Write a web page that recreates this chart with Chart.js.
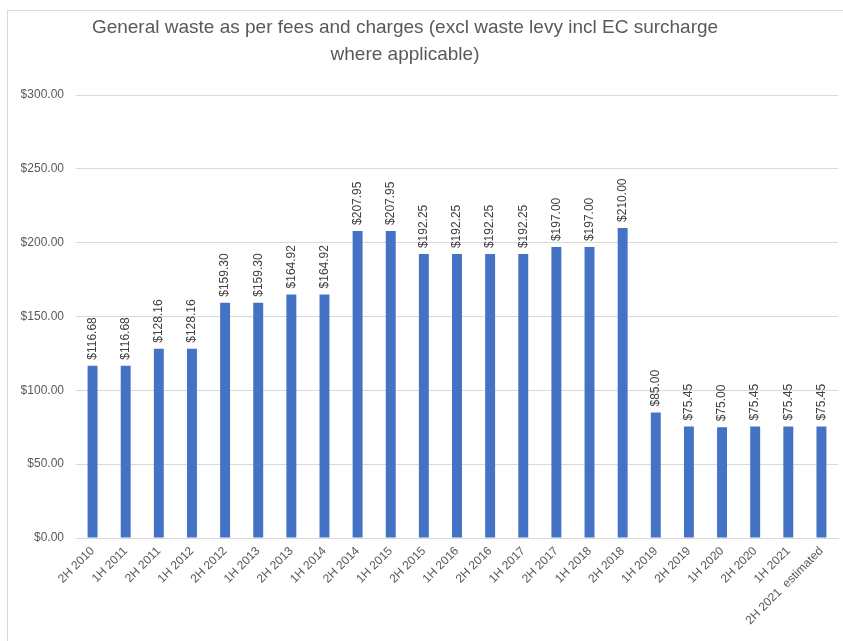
<!DOCTYPE html>
<html>
<head>
<meta charset="utf-8">
<script src="https://cdn.jsdelivr.net/npm/chart.js@4/dist/chart.umd.min.js"></script>
<style>
  body { margin: 0; background: #fff; overflow: hidden; }
  #frame { position: absolute; left: 7px; top: 10px; width: 1000px; height: 800px; border: 1px solid #d9d9d9; }
  #wrap { position: absolute; left: 0; top: 0; width: 843px; height: 641px; }
</style>
</head>
<body>
<div id="frame"></div>
<div id="wrap"><canvas id="mycanvas" width="843" height="641"></canvas></div>
<script>
var periods = ["2H 2010", "1H 2011", "2H 2011", "1H 2012", "2H 2012", "1H 2013", "2H 2013", "1H 2014",
  "2H 2014", "1H 2015", "2H 2015", "1H 2016", "2H 2016", "1H 2017", "2H 2017", "1H 2018", "2H 2018",
  "1H 2019", "2H 2019", "1H 2020", "2H 2020", "1H 2021", "2H 2021  estimated"];
var fees = [116.68, 116.68, 128.16, 128.16, 159.30, 159.30, 164.92, 164.92, 207.95, 207.95, 192.25,
  192.25, 192.25, 192.25, 197.00, 197.00, 210.00, 85.00, 75.45, 75.00, 75.45, 75.45, 75.45];
var titleLines = ["General waste as per fees and charges (excl waste levy incl EC surcharge",
  "where applicable)"];

var font = "'Liberation Sans', Arial, sans-serif";

function money(v) {
  return "$" + Number(v).toFixed(2);
}

// title drawn by hand so it sits where the old chart had it
var titlePlugin = {
  id: "titleText",
  afterDraw: function(chart) {
    var ctx = chart.ctx;
    ctx.save();
    ctx.fillStyle = "#595959";
    ctx.font = "19px " + font;
    ctx.textAlign = "center";
    ctx.textBaseline = "middle";
    ctx.fillText(titleLines[0], 405, 28);
    ctx.fillText(titleLines[1], 405, 55);
    ctx.restore();
  }
};

// value labels, rotated, just above each bar
var valuePlugin = {
  id: "valueLabels",
  afterDatasetsDraw: function(chart) {
    var ctx = chart.ctx;
    var meta = chart.getDatasetMeta(0);
    ctx.save();
    ctx.fillStyle = "#404040";
    ctx.font = "12px " + font;
    ctx.textAlign = "left";
    ctx.textBaseline = "middle";
    meta.data.forEach(function(bar, i) {
      ctx.save();
      ctx.translate(bar.x, bar.y - 6);
      ctx.rotate(-Math.PI / 2);
      ctx.fillText(money(fees[i]), 0, 0);
      ctx.restore();
    });
    ctx.restore();
  }
};

var ctx = document.getElementById("mycanvas");
var barGraph = new Chart(ctx, {
  type: "bar",
  data: {
    labels: periods,
    datasets: [{
      label: "General waste",
      data: fees,
      backgroundColor: "#4472C4",
      borderWidth: 0,
      barPercentage: 0.3,
      categoryPercentage: 1.0
    }]
  },
  options: {
    responsive: false,
    animation: false,
    layout: { padding: { left: 0, right: 5, top: 95, bottom: 0 } },
    plugins: {
      legend: { display: false },
      title: { display: false },
      tooltip: { enabled: false }
    },
    scales: {
      x: {
        grid: { display: false, drawTicks: false },
        border: { color: "#d9d9d9", width: 1 },
        ticks: {
          color: "#595959",
          font: { family: font, size: 12 },
          maxRotation: 45,
          minRotation: 45,
          autoSkip: false,
          padding: 6
        },
        afterFit: function(scale) { scale.height = 103; }
      },
      y: {
        min: 0,
        max: 300,
        grid: { color: "#d9d9d9", drawTicks: false },
        border: { display: false },
        ticks: {
          stepSize: 50,
          color: "#595959",
          font: { family: font, size: 12 },
          padding: 12,
          callback: function(v) { return money(v); }
        },
        afterFit: function(scale) { scale.width = 76; }
      }
    }
  },
  plugins: [titlePlugin, valuePlugin]
});
</script>
</body>
</html>
